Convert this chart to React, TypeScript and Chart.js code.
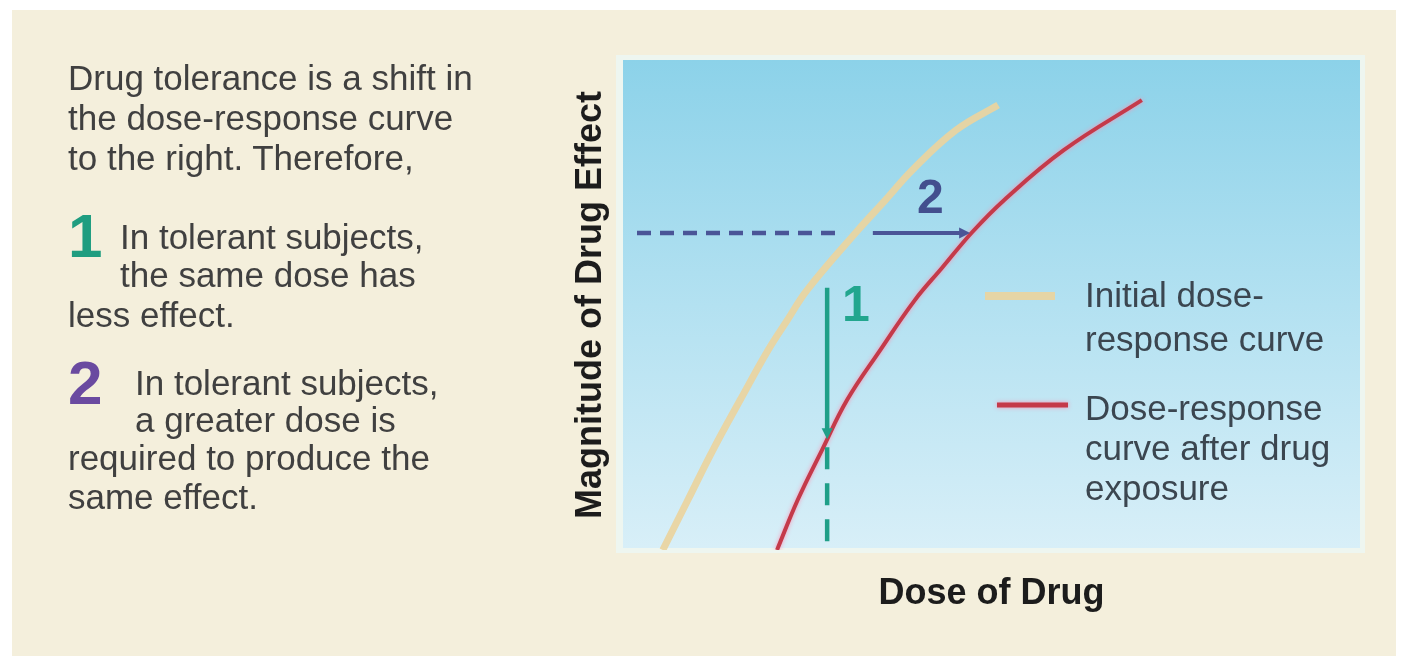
import React, { useEffect, useRef } from "react";
import { Chart, registerables } from "chart.js";

Chart.register(...registerables);

// ---- data (dose on x, effect on y, both 0..100 arbitrary units) ----
const initialDose = [5.4, 8.8, 12.2, 15.9, 19.7, 22.3, 25.0, 31.9, 35.6, 39.3, 45.2, 50.9];
const initialEffect = [0, 10.2, 20.4, 30.6, 40.8, 46.9, 53.1, 65.3, 71.4, 77.6, 85.7, 90.8];
const tolerantDose = [20.9, 23.7, 27.0, 30.4, 34.9, 39.6, 43.3, 47.4, 51.7, 59.8, 70.4];
const tolerantEffect = [0, 10.2, 20.4, 30.6, 40.8, 51.0, 57.6, 64.9, 71.4, 81.6, 91.8];

const seriesLabels = ["Initial dose-response curve", "Dose-response curve after drug exposure"];
const legendInitialLines = ["Initial dose-", "response curve"];
const legendTolerantLines = ["Dose-response", "curve after drug", "exposure"];
const xAxisTitle = "Dose of Drug";
const yAxisTitle = "Magnitude of Drug Effect";

const introLines = ["Drug tolerance is a shift in", "the dose-response curve", "to the right. Therefore,"];
const point1Lines = ["In tolerant subjects,", "the same dose has", "less effect."];
const point2Lines = ["In tolerant subjects,", "a greater dose is", "required to produce the", "same effect."];

// annotation values (data units)
const sameDose = 27.7;
const sameDoseEffectBefore = 53.5;
const sameDoseEffectAfter = 22.6;
const sameEffect = 64.7;
const dashedStartDose = 1.9;
const dashedEndDose = 29.4;
const greaterDoseStart = 33.9;
const greaterDose = 47.1;

const FONT = '"Liberation Sans", Arial, Helvetica, sans-serif';
const BEIGE = "rgba(234, 212, 158, 0.92)";
const RED = "#c43a4a";
const PURPLE = "#4a5597";
const TEAL = "#1f9f88";

function arrow(ctx: CanvasRenderingContext2D, x1: number, y1: number, x2: number, y2: number, color: string, w: number) {
  const ang = Math.atan2(y2 - y1, x2 - x1);
  const head = 11;
  const half = 5.5;
  ctx.strokeStyle = color;
  ctx.fillStyle = color;
  ctx.lineWidth = w;
  ctx.setLineDash([]);
  ctx.beginPath();
  ctx.moveTo(x1, y1);
  ctx.lineTo(x2 - Math.cos(ang) * head * 0.8, y2 - Math.sin(ang) * head * 0.8);
  ctx.stroke();
  ctx.beginPath();
  ctx.moveTo(x2, y2);
  ctx.lineTo(x2 - Math.cos(ang) * head - Math.sin(ang) * half, y2 - Math.sin(ang) * head + Math.cos(ang) * half);
  ctx.lineTo(x2 - Math.cos(ang) * head + Math.sin(ang) * half, y2 - Math.sin(ang) * head - Math.cos(ang) * half);
  ctx.closePath();
  ctx.fill();
}

const backdropPlugin = {
  id: "backdrop",
  beforeDraw(chart: any) {
    const { ctx, chartArea: a, width, height } = chart;
    ctx.save();
    ctx.fillStyle = "#ffffff";
    ctx.fillRect(0, 0, width, height);
    ctx.fillStyle = "#f4efdc";
    ctx.fillRect(12, 10, 1384, height - 10);
    ctx.fillStyle = "#eef6f0";
    ctx.fillRect(a.left - 7, a.top - 5, a.right - a.left + 12, a.bottom - a.top + 8);
    const g = ctx.createLinearGradient(0, a.top, 0, a.bottom);
    g.addColorStop(0, "#8cd2e9");
    g.addColorStop(0.5, "#b3e1f1");
    g.addColorStop(1, "#d8eff8");
    ctx.fillStyle = g;
    ctx.fillRect(a.left, a.top, a.right - a.left, a.bottom - a.top - 2);
    ctx.restore();
  },
  beforeDatasetDraw(chart: any, args: any) {
    if (args.index === 1) {
      chart.ctx.save();
      chart.ctx.shadowColor = "rgba(255, 140, 175, 0.9)";
      chart.ctx.shadowBlur = 4;
    }
  },
  afterDatasetDraw(chart: any, args: any) {
    if (args.index === 1) chart.ctx.restore();
  },
};

const annotationPlugin = {
  id: "annotations",
  afterDatasetsDraw(chart: any) {
    const { ctx, chartArea: a } = chart;
    const X = (v: number) => chart.scales.x.getPixelForValue(v);
    const Y = (v: number) => chart.scales.y.getPixelForValue(v);
    ctx.save();
    ctx.lineCap = "butt";

    // horizontal dashed line (same effect)
    ctx.strokeStyle = PURPLE;
    ctx.lineWidth = 4.5;
    ctx.setLineDash([14, 9]);
    ctx.beginPath();
    ctx.moveTo(X(dashedStartDose), Y(sameEffect));
    ctx.lineTo(X(dashedEndDose), Y(sameEffect));
    ctx.stroke();
    arrow(ctx, X(greaterDoseStart), Y(sameEffect), X(greaterDose), Y(sameEffect), PURPLE, 4);

    // vertical arrow (same dose)
    arrow(ctx, X(sameDose), Y(sameDoseEffectBefore), X(sameDose), Y(sameDoseEffectAfter), TEAL, 4.5);
    ctx.strokeStyle = TEAL;
    ctx.lineWidth = 4.5;
    ctx.setLineDash([22, 14]);
    ctx.beginPath();
    ctx.moveTo(X(sameDose), Y(sameDoseEffectAfter) + 8);
    ctx.lineTo(X(sameDose), a.bottom);
    ctx.stroke();
    ctx.setLineDash([]);

    // numbers
    ctx.textAlign = "center";
    ctx.textBaseline = "middle";
    ctx.font = `bold 48px ${FONT}`;
    ctx.fillStyle = "#434f8e";
    ctx.fillText("2", X(41.7), Y(71.4));
    ctx.font = `bold 50px ${FONT}`;
    ctx.fillStyle = "#22a68e";
    ctx.fillText("1", X(31.6), Y(49.6));

    // legend
    ctx.lineWidth = 8;
    ctx.strokeStyle = BEIGE;
    ctx.beginPath();
    ctx.moveTo(985, 296);
    ctx.lineTo(1055, 296);
    ctx.stroke();
    ctx.lineWidth = 5;
    ctx.strokeStyle = RED;
    ctx.shadowColor = "rgba(255, 140, 175, 0.9)";
    ctx.shadowBlur = 4;
    ctx.beginPath();
    ctx.moveTo(997, 405);
    ctx.lineTo(1068, 405);
    ctx.stroke();
    ctx.shadowBlur = 0;
    ctx.shadowColor = "transparent";

    ctx.textAlign = "left";
    ctx.fillStyle = "#3b4650";
    ctx.font = `35px ${FONT}`;
    const y1 = [297, 341];
    legendInitialLines.forEach((t, i) => ctx.fillText(t, 1085, y1[i]));
    const y2 = [410, 450, 490];
    legendTolerantLines.forEach((t, i) => ctx.fillText(t, 1085, y2[i]));
    ctx.restore();
  },
};

function toPoints(xs: number[], ys: number[]) {
  return xs.map((x, i) => ({ x, y: ys[i] }));
}

function ChartCanvas() {
  const ref = useRef<HTMLCanvasElement | null>(null);
  useEffect(() => {
    if (!ref.current) return;
    const titleFont = { family: FONT, size: 36, weight: "bold" as const, lineHeight: 1.2 };
    const chart = new Chart(ref.current, {
      type: "line",
      data: {
        datasets: [
          {
            label: seriesLabels[0],
            data: toPoints(initialDose, initialEffect),
            borderColor: BEIGE,
            borderWidth: 7,
            pointRadius: 0,
            tension: 0.4,
            fill: false,
            order: 2,
          },
          {
            label: seriesLabels[1],
            data: toPoints(tolerantDose, tolerantEffect),
            borderColor: RED,
            borderWidth: 4,
            pointRadius: 0,
            tension: 0.4,
            fill: false,
            order: 1,
          },
        ],
      },
      options: {
        animation: false,
        responsive: false,
        maintainAspectRatio: false,
        layout: { padding: { top: 60, right: 49, left: 569.8, bottom: 30.4 } },
        plugins: { legend: { display: false }, tooltip: { enabled: false } },
        scales: {
          x: {
            type: "linear",
            min: 0,
            max: 100,
            grid: { display: false, drawTicks: false },
            border: { display: false },
            ticks: { display: false },
            title: { display: true, text: xAxisTitle, color: "#1c1c1c", font: titleFont, padding: { top: 22.4, bottom: 10 } },
          },
          y: {
            type: "linear",
            min: 0,
            max: 100,
            grid: { display: false, drawTicks: false },
            border: { display: false },
            ticks: { display: false },
            title: { display: true, text: yAxisTitle, color: "#1c1c1c", font: titleFont, padding: { top: 0, bottom: 10 } },
          },
        },
      },
      plugins: [backdropPlugin, annotationPlugin],
    });
    return () => chart.destroy();
  }, []);
  return <canvas ref={ref} width={1409} height={656} style={{ position: "absolute", left: 0, top: 0 }} />;
}

const textStyle: React.CSSProperties = {
  position: "absolute",
  fontFamily: FONT,
  fontSize: 35,
  lineHeight: "40px",
  color: "#404040",
  whiteSpace: "nowrap",
};

function Line({ text, x, cy }: { text: string; x: number; cy: number }) {
  return <div style={{ ...textStyle, left: x, top: cy - 20 }}>{text}</div>;
}

function Numeral({ text, x, cy, color }: { text: string; x: number; cy: number; color: string }) {
  return (
    <div style={{ ...textStyle, left: x, top: cy - 31, fontSize: 62, lineHeight: "62px", fontWeight: "bold", color }}>
      {text}
    </div>
  );
}

export default function App() {
  useEffect(() => {
    document.body.style.margin = "0";
  }, []);
  const introY = [78, 118, 158];
  const p1 = [
    { x: 120, y: 237 },
    { x: 120, y: 275 },
    { x: 68, y: 315 },
  ];
  const p2 = [
    { x: 135, y: 383 },
    { x: 135, y: 420 },
    { x: 68, y: 458 },
    { x: 68, y: 497 },
  ];
  return (
    <div style={{ position: "relative", width: 1409, height: 656, overflow: "hidden", background: "#fff" }}>
      <ChartCanvas />
      {introLines.map((t, i) => (
        <Line key={"i" + i} text={t} x={68} cy={introY[i]} />
      ))}
      <Numeral text="1" x={68} cy={236} color="#1f9d80" />
      {point1Lines.map((t, i) => (
        <Line key={"a" + i} text={t} x={p1[i].x} cy={p1[i].y} />
      ))}
      <Numeral text="2" x={68} cy={383} color="#6a4aa0" />
      {point2Lines.map((t, i) => (
        <Line key={"b" + i} text={t} x={p2[i].x} cy={p2[i].y} />
      ))}
    </div>
  );
}
